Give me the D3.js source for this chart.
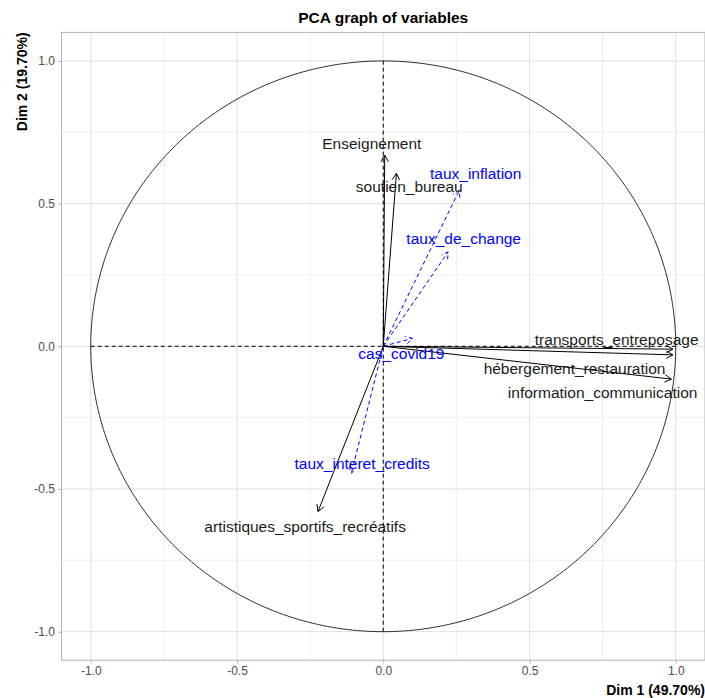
<!DOCTYPE html>
<html>
<head>
<meta charset="utf-8">
<script src="https://cdn.jsdelivr.net/npm/d3@7"></script>
<style>
  html, body { margin: 0; padding: 0; background: #fff; }
  svg { display: block; font-family: "Liberation Sans", Arial, sans-serif; }
</style>
</head>
<body>
<svg id="chart" width="705" height="698"></svg>
<script>
// ---------- data ----------
const title = "PCA graph of variables";
const xTitle = "Dim 1 (49.70%)";
const yTitle = "Dim 2 (19.70%)";

const activeVars = ["Enseignement", "soutien_bureau", "transports_entreposage",
  "hébergement_restauration", "information_communication", "artistiques_sportifs_recréatifs"];
const activeDim1 = [0.005, 0.045, 0.990, 0.990, 0.985, -0.223];
const activeDim2 = [0.670, 0.606, -0.010, -0.030, -0.115, -0.579];
const activeLabelDim1 = [-0.039, 0.089, 0.798, 0.654, 0.750, -0.267];
const activeLabelDim2 = [0.712, 0.559, 0.025, -0.077, -0.163, -0.632];

const suppVars = ["taux_inflation", "taux_de_change", "cas_covid19", "taux_interet_credits"];
const suppDim1 = [0.260, 0.222, 0.100, -0.109];
const suppDim2 = [0.547, 0.331, 0.028, -0.445];
const suppLabelDim1 = [0.316, 0.275, 0.062, -0.072];
const suppLabelDim2 = [0.606, 0.378, -0.025, -0.410];

const majorTicks = [-1.0, -0.5, 0.0, 0.5, 1.0];
const minorTicks = [-0.75, -0.25, 0.25, 0.75];
const tickLabels = ["-1.0", "-0.5", "0.0", "0.5", "1.0"];

// ---------- layout ----------
const svg = d3.select("#chart");
const x = d3.scaleLinear().domain([-1.1, 1.1]).range([61.5, 705]);
const y = d3.scaleLinear().domain([-1.1, 1.1]).range([660.2, 32.4]);
const [x0, x1] = x.range();
const [y0, y1] = y.range();

// grid
const grid = svg.append("g");
grid.selectAll(".vminor").data(minorTicks).join("line")
  .attr("x1", d => x(d)).attr("x2", d => x(d)).attr("y1", y1).attr("y2", y0)
  .attr("stroke", "#ebebeb").attr("stroke-width", 0.8);
grid.selectAll(".hminor").data(minorTicks).join("line")
  .attr("y1", d => y(d)).attr("y2", d => y(d)).attr("x1", x0).attr("x2", x1)
  .attr("stroke", "#ebebeb").attr("stroke-width", 0.8);
grid.selectAll(".vmajor").data(majorTicks).join("line")
  .attr("x1", d => x(d)).attr("x2", d => x(d)).attr("y1", y1).attr("y2", y0)
  .attr("stroke", "#e0e0e0").attr("stroke-width", 1);
grid.selectAll(".hmajor").data(majorTicks).join("line")
  .attr("y1", d => y(d)).attr("y2", d => y(d)).attr("x1", x0).attr("x2", x1)
  .attr("stroke", "#e0e0e0").attr("stroke-width", 1);

// panel border
svg.append("rect").attr("x", x0).attr("y", y1).attr("width", x1 - x0).attr("height", y0 - y1)
  .attr("fill", "none").attr("stroke", "#b3b3b3").attr("stroke-width", 1);

// axes (ticks + labels)
const xAxis = d3.axisBottom(x).tickValues(majorTicks).tickFormat((d, i) => tickLabels[i])
  .tickSize(3.5).tickPadding(3);
const gx = svg.append("g").attr("transform", `translate(0,${y0})`).call(xAxis);
gx.select(".domain").remove();
gx.selectAll(".tick line").attr("stroke", "#b3b3b3");
gx.selectAll(".tick text").attr("fill", "#4d4d4d").style("font-size", "12px")
  .style("font-family", "'Liberation Sans', Arial, sans-serif");

const yAxis = d3.axisLeft(y).tickValues(majorTicks).tickFormat((d, i) => tickLabels[i])
  .tickSize(3.5).tickPadding(3);
const gy = svg.append("g").attr("transform", `translate(${x0},0)`).call(yAxis);
gy.select(".domain").remove();
gy.selectAll(".tick line").attr("stroke", "#b3b3b3");
gy.selectAll(".tick text").attr("fill", "#4d4d4d").style("font-size", "12px")
  .style("font-family", "'Liberation Sans', Arial, sans-serif");

// dashed reference axes
svg.append("line").attr("x1", x(-1)).attr("x2", x(1)).attr("y1", y(0)).attr("y2", y(0))
  .attr("stroke", "#000").attr("stroke-width", 1).attr("stroke-dasharray", "4,3");
svg.append("line").attr("x1", x(0)).attr("x2", x(0)).attr("y1", y(-1)).attr("y2", y(1))
  .attr("stroke", "#000").attr("stroke-width", 1).attr("stroke-dasharray", "4,3");

// correlation circle
const angles = d3.range(0, 361, 1).map(a => a * Math.PI / 180);
svg.append("path")
  .attr("d", d3.line().x(a => x(Math.cos(a))).y(a => y(Math.sin(a)))(angles))
  .attr("fill", "none").attr("stroke", "#1a1a1a").attr("stroke-width", 0.9);

// arrows
function arrowPath(dx, dy) {
  const sx = x(0), sy = y(0), tx = x(dx), ty = y(dy);
  const ang = Math.atan2(ty - sy, tx - sx);
  const L = 7.5, w = Math.PI / 6;
  const a1x = tx - L * Math.cos(ang - w), a1y = ty - L * Math.sin(ang - w);
  const a2x = tx - L * Math.cos(ang + w), a2y = ty - L * Math.sin(ang + w);
  return `M${sx},${sy}L${tx},${ty}M${a1x},${a1y}L${tx},${ty}L${a2x},${a2y}`;
}

const supp = suppVars.map((v, i) => ({ name: v, d1: suppDim1[i], d2: suppDim2[i], l1: suppLabelDim1[i], l2: suppLabelDim2[i] }));
const active = activeVars.map((v, i) => ({ name: v, d1: activeDim1[i], d2: activeDim2[i], l1: activeLabelDim1[i], l2: activeLabelDim2[i] }));

svg.append("g").selectAll("path").data(supp).join("path")
  .attr("d", d => arrowPath(d.d1, d.d2))
  .attr("fill", "none").attr("stroke", "#0000ff").attr("stroke-width", 1)
  .attr("stroke-dasharray", "4,3");

svg.append("g").selectAll("path").data(active).join("path")
  .attr("d", d => arrowPath(d.d1, d.d2))
  .attr("fill", "none").attr("stroke", "#000").attr("stroke-width", 1);

// labels
svg.append("g").selectAll("text").data(active).join("text")
  .attr("x", d => x(d.l1)).attr("y", d => y(d.l2))
  .attr("text-anchor", "middle").attr("dominant-baseline", "central")
  .attr("fill", "#1a1a1a").style("font-size", "15.5px").text(d => d.name);

svg.append("g").selectAll("text").data(supp).join("text")
  .attr("x", d => x(d.l1)).attr("y", d => y(d.l2))
  .attr("text-anchor", "middle").attr("dominant-baseline", "central")
  .attr("fill", "#0000ff").style("font-size", "15.5px").text(d => d.name);

// titles
svg.append("text").attr("x", (x0 + x1) / 2).attr("y", 23)
  .attr("text-anchor", "middle").attr("font-weight", "bold").style("font-size", "15.5px")
  .attr("fill", "#000").text(title);

svg.append("text").attr("x", 705).attr("y", 695)
  .attr("text-anchor", "end").attr("font-weight", "bold").style("font-size", "14px")
  .attr("fill", "#000").text(xTitle);

svg.append("text").attr("transform", `translate(27,${y1}) rotate(-90)`)
  .attr("text-anchor", "end").attr("font-weight", "bold").style("font-size", "14px")
  .attr("fill", "#000").text(yTitle);
</script>
</body>
</html>
